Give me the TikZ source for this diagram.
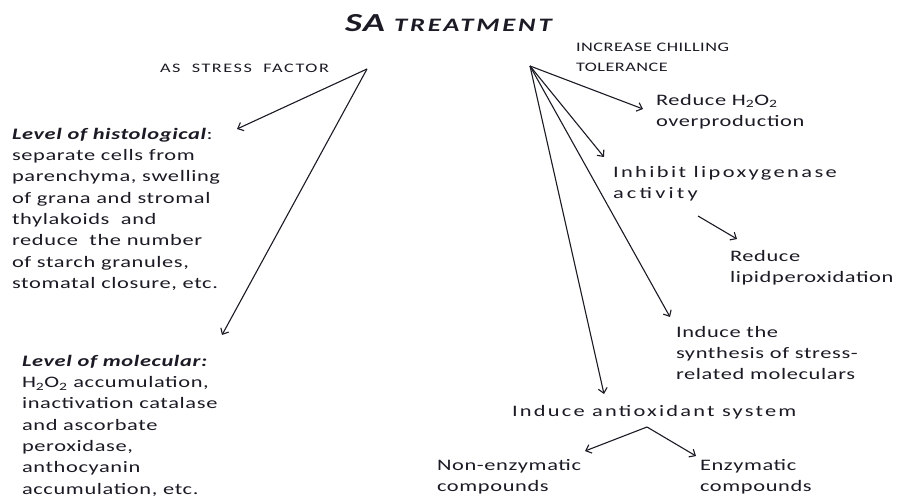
\documentclass[tikz,border=0pt]{standalone}
\usepackage{fontspec}
\setmainfont{Carlito}[FakeStretch=1.4, LetterSpace=4]
\usetikzlibrary{arrows.meta}
\definecolor{ink}{HTML}{1C1A24}
\begin{document}
\begin{tikzpicture}[x=1bp,y=-1bp,
  every node/.style={inner sep=0pt, outer sep=0pt, text=ink, align=left},
  conn/.style={draw=ink, line width=1.1bp, -{Straight Barb[length=5bp,width=9bp]}},
  body/.style={font=\fontsize{16bp}{21.3bp}\selectfont, anchor=north west},
  caps/.style={font=\fontsize{13bp}{20bp}\selectfont, anchor=north west}]
\useasboundingbox[fill=white] (0,0) rectangle (899,499);

\node[anchor=base west] (title) at (345,32) {\bfseries\itshape\fontsize{26bp}{26bp}\selectfont SA \fontsize{19bp}{19bp}\selectfont\addfontfeature{LetterSpace=15}TREATMENT};

\node[caps] (stress) at (160,64) {\addfontfeature{LetterSpace=12}AS\ \ STRESS\ \ FACTOR};
\node[caps] (chill) at (576,43) {INCREASE CHILLING\\TOLERANCE};

\coordinate (oL) at (367,69);
\coordinate (oR) at (530,66);

\node[body] (hist) at (12,128) {\textbf{\textit{Level of histological}}:\\separate cells from\\parenchyma, swelling\\of grana and stromal\\thylakoids\ \ and\\reduce\ \ the number\\of starch granules,\\stomatal closure, etc.};
\node[body] (mol) at (22,355) {\textbf{\textit{Level of molecular:}}\\H\textsubscript{2}O\textsubscript{2} accumulation,\\inactivation catalase\\and ascorbate\\peroxidase,\\anthocyanin\\accumulation, etc.};

\node[body] (h2o2) at (656,94) {Reduce H\textsubscript{2}O\textsubscript{2}\\overproduction};
\node[body] (lox) at (613,166) {\addfontfeature{LetterSpace=15}Inhibit lipoxygenase\\\addfontfeature{LetterSpace=20}activity};
\node[body] (lpo) at (730,250) {Reduce\\lipidperoxidation};
\node[body] (synth) at (676,326) {Induce the\\synthesis of stress-\\related moleculars};
\node[body] (anti) at (512,405) {\addfontfeature{LetterSpace=14}Induce antioxidant system};
\node[body] (nonenz) at (437,459) {Non-enzymatic\\compounds};
\node[body] (enz) at (700,459) {Enzymatic\\compounds};

\coordinate (tHist) at (237,129);
\coordinate (tMol) at (222,335);
\coordinate (tH2o2) at (643,109);
\coordinate (tLox) at (604,157);
\coordinate (tSynth) at (670,317);
\coordinate (tAnti) at (604,394);
\coordinate (sLox) at (698,216);
\coordinate (tLpo) at (737,239);
\coordinate (apex) at (647,427);
\coordinate (tNon) at (585,451);
\coordinate (tEnz) at (696,456);

\draw[conn] (oL) -- (tHist);
\draw[conn] (oL) -- (tMol);
\draw[conn] (oR) -- (tH2o2);
\draw[conn] (oR) -- (tLox);
\draw[conn] (oR) -- (tSynth);
\draw[conn] (oR) -- (tAnti);
\draw[conn] (sLox) -- (tLpo);
\draw[conn] (apex) -- (tNon);
\draw[conn] (apex) -- (tEnz);
\end{tikzpicture}
\end{document}
